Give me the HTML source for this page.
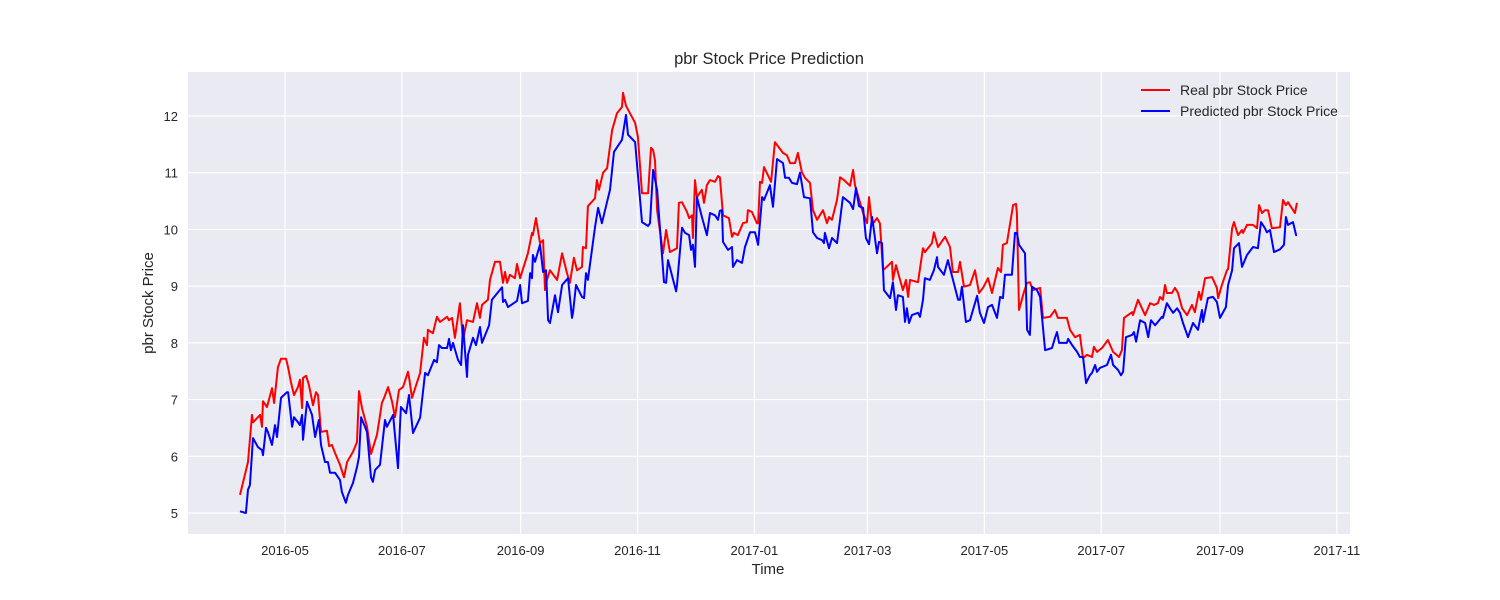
<!DOCTYPE html>
<html><head><meta charset="utf-8"><style>
body{margin:0;background:#fff;}
svg{display:block;font-family:"Liberation Sans",sans-serif;}
</style></head><body>
<svg id="chart" width="1500" height="600">
<rect x="0" y="0" width="1500" height="600" fill="#fff"/>
<rect x="188" y="72" width="1162" height="462" fill="#eaeaf2"/>
<g id="grid"></g><g id="ticks"></g><g id="series"></g>
<text x="769" y="64" text-anchor="middle" font-size="16.5" fill="#262626">pbr Stock Price Prediction</text>
<text x="768" y="574" text-anchor="middle" font-size="15" fill="#262626">Time</text>
<text transform="translate(153,303) rotate(-90)" text-anchor="middle" font-size="15" fill="#262626">pbr Stock Price</text>
<g>
<line x1="1141" y1="90" x2="1170" y2="90" stroke="#ff0000" stroke-width="2"/>
<text x="1180" y="95" font-size="14" fill="#262626">Real pbr Stock Price</text>
<line x1="1141" y1="111" x2="1170" y2="111" stroke="#0000ff" stroke-width="2"/>
<text x="1180" y="116" font-size="14" fill="#262626">Predicted pbr Stock Price</text>
</g>
</svg>
<script>
// days since 2016-05-01
const xTickDays=[0,61,123,184,245,304,365,426,488,549];
const xTickLabels=["2016-05","2016-07","2016-09","2016-11","2017-01","2017-03","2017-05","2017-07","2017-09","2017-11"];
const yTicks=[5,6,7,8,9,10,11,12];
const redDays=[-23.5,-19.3,-17.2,-16.7,-13,-12,-11.5,-9.4,-6.8,-5.7,-3.7,-2.1,0.5,1.6,3.1,4.7,6.8,7.8,8.9,9.4,11,12.5,14.6,16.2,17.2,18.8,21.9,23,24.5,26.1,28.7,30.8,32.4,35.5,37.6,38.6,40.2,42.8,44.9,48,50.6,51.7,53.8,55.9,57.4,59.5,61.6,64.2,64.7,66.3,70.5,72.5,74.1,74.6,77.2,79.3,80.9,84.6,85.6,87.2,88.7,91.3,92.9,95,98.1,100.2,101.8,102.8,105.9,107,109.6,112.2,113.8,114.8,115.9,117.4,120,121.1,122.7,126.8,128.9,129.4,131,133.1,134.7,135.7,136.7,138.3,142,144.6,147.2,148.7,150.8,152.4,155,155.5,157.1,158.1,161.8,162.8,163.9,166,168.1,170.7,173.3,175.9,176.4,178,182.7,184.2,186.3,189.5,191,192.1,193.1,194.2,197.3,198.9,200.9,204.6,205.6,207.2,209.8,210.9,212.4,212.9,214,215,217.6,218.7,220.2,221.8,224.4,226,227,228.6,231.7,233.3,234.3,236.4,239,241.1,241.6,243.7,246.3,246.9,247.9,249,250,253.7,255.7,259.9,262,263.6,266.2,267.7,269.8,271.4,274,275.6,277.7,280.8,282.9,283.9,285.5,288.1,289.7,291.8,294.9,296.5,297.5,301.7,303.8,304.8,306.4,309,310.5,312.1,316.8,317.3,318.9,322.5,324.1,325.2,326.2,330.4,333,334,337.7,338.7,340.8,344.5,347.1,348.6,351.3,352.3,354.4,357.5,360.1,362.2,364.3,366.9,369,372.1,373.7,374.7,376.8,380,381.5,382,383.1,385.7,387.3,388.8,390.4,394.1,395.6,399.3,401.9,403.4,408.1,409.7,412.3,414.9,416.5,418.6,421.2,422.2,423.8,426.4,429.5,432.2,435.3,436.8,437.9,442.1,442.6,445.2,448.9,451.5,453.6,455.6,456.7,458.2,459.3,460.3,462.9,464.5,466.1,468.2,470.8,473.4,474.9,477,478.1,480.2,483.8,486.4,487,489,491.6,492.2,494.3,495.3,497.4,499.5,500,502.1,505.2,507.3,508.4,509.9,511.5,513.1,515.1,519.3,520.9,522.4,523.5,527.1,528.2];
const redVals=[5.32,5.9,6.73,6.6,6.73,6.52,6.97,6.87,7.2,6.94,7.57,7.72,7.72,7.57,7.31,7.08,7.22,7.35,6.85,7.38,7.42,7.26,6.9,7.13,7.08,6.43,6.45,6.18,6.2,6.06,5.85,5.63,5.9,6.08,6.25,7.15,6.85,6.52,6.04,6.38,6.94,7.03,7.22,6.96,6.69,7.17,7.22,7.49,7.4,7.03,7.47,8.09,7.96,8.23,8.17,8.46,8.37,8.46,8.4,8.44,8.09,8.7,8.05,8.4,8.37,8.7,8.44,8.67,8.76,9.11,9.43,9.43,9.06,9.25,9.06,9.2,9.14,9.39,9.14,9.58,9.94,9.9,10.2,9.76,9.81,8.93,9.11,9.28,9.11,9.58,9.23,9.06,9.5,9.28,9.34,9.69,9.67,10.41,10.55,10.87,10.7,11,11.08,11.75,12.05,12.16,12.41,12.18,11.88,11.63,10.64,10.64,11.44,11.4,11.22,10.34,9.58,9.99,9.6,9.67,10.47,10.48,10.31,10.2,10.25,9.85,10.87,10.57,10.7,10.47,10.78,10.87,10.84,10.94,10.92,10.25,10.2,9.87,9.94,9.9,10.11,10.13,10.34,10.31,10.11,10.11,10.84,10.82,11.1,10.84,11.54,11.35,11.31,11.17,11.17,11.35,11.01,10.91,10.82,10.34,10.17,10.34,10.11,10.22,10.17,10.52,10.92,10.87,10.77,11.05,10.78,10.29,10.11,10.57,10.08,10.2,10.11,9.28,9.43,9.11,9.37,8.93,9.11,8.81,9.11,9.07,9.67,9.6,9.76,9.95,9.69,9.87,9.69,9.25,9.25,9.43,8.99,9.02,9.28,8.88,8.97,9.14,8.88,9.32,9.25,9.73,9.76,10.43,10.45,10.29,8.58,8.9,9.06,9.07,8.93,8.97,8.44,8.46,8.58,8.44,8.44,8.23,8.1,8.14,7.73,7.79,7.75,7.93,7.84,7.91,8.05,7.84,7.75,7.87,8.44,8.54,8.49,8.76,8.49,8.7,8.67,8.7,8.81,8.76,9.02,8.88,8.88,8.97,8.88,8.61,8.49,8.67,8.54,8.9,8.76,9.14,9.16,8.97,8.79,9.02,9.28,9.3,10.02,10.13,9.9,9.99,9.94,10.08,10.08,10.02,10.43,10.29,10.34,10.34,10.02,10.04,10.52,10.43,10.48,10.29,10.47];
const blueDays=[-23.5,-20.4,-19.3,-18.3,-16.7,-14.1,-12,-11.5,-9.9,-8.9,-6.8,-5.2,-4.2,-2.1,1,1.6,3.7,4.7,6.8,7.8,8.9,9.4,11.5,14.1,15.7,17.7,18.8,20.9,22.4,23.5,26.1,28.7,29.7,31.8,32.9,35.5,37.6,38.6,39.7,42.8,44.9,45.9,47,49.6,52.2,53.2,56.4,59,60.5,63.2,64.7,66.8,70.5,73.1,74.6,77.8,79.3,80.4,81.9,84.6,85.6,86.6,87.7,90.3,91.9,92.9,95,95.5,98.1,99.7,101.8,102.8,106.5,108,113.3,113.8,114.8,116.4,121.1,122.7,123.7,126.8,127.9,128.9,129.4,130.5,133.1,134.7,136.2,137.3,138.3,140.9,142.5,144.6,147.7,149.8,150.3,151.9,155,156.1,157.1,158.1,161.8,163.4,165.4,169.6,171.7,175.9,178,179,182.7,186.3,189.5,190.5,192.1,194.2,197.8,198.9,199.9,204.1,204.6,207.2,208.8,210.9,211.9,212.9,214,215,217.6,220.2,221.8,224.4,226,227,228.1,228.6,231.2,233.3,233.8,235.9,238.5,240.1,242.7,245.3,246.9,249,250,253.1,254.7,256.8,259.9,261,263,264.6,267.2,268.8,270.9,274,275.6,277.7,280.3,281.3,281.8,283.9,285.5,288.1,289.7,291.2,294.9,296.5,298,299.6,301.7,303.2,304.8,306.4,309,310,311.6,312.6,315.8,317.3,318.9,319.9,322.5,323.6,324.6,325.7,327.2,330.4,331.4,333,334,336.6,338.7,340.3,340.8,343.9,346,351.3,352.3,353.3,355.4,357.5,361.2,362.7,364.8,366.9,369,371.6,373.2,374.7,375.8,379.4,381,382,383.1,386.2,387.3,388.8,389.9,392.5,394.1,396.7,400.3,401.9,402.9,404,408.1,408.7,410.8,413.4,414.9,416.5,418.1,420.1,421.2,422.8,423.8,425.4,429,431.1,432.2,434.8,436.3,437.4,438.9,442.1,443.1,444.2,446.3,448.9,450.5,452,454.1,455.6,457.7,458.2,460.3,461.9,463.5,465.6,467.1,468.7,471.3,473.9,476.5,478.6,479.1,481.7,484.3,486.4,488,491.1,492.2,494.3,495.3,497.9,499.5,502.1,505.2,507.8,509.4,511.5,512.5,514.1,516.2,519.3,521.4,522.4,523.5,526.1,527.7,528.2];
const blueVals=[5.03,5,5.41,5.49,6.32,6.16,6.11,6.02,6.5,6.43,6.2,6.55,6.34,7.03,7.13,7.13,6.52,6.69,6.6,6.55,6.73,6.29,6.96,6.73,6.34,6.64,6.2,5.9,5.9,5.71,5.71,5.58,5.37,5.18,5.32,5.53,5.81,5.99,6.69,6.43,5.63,5.55,5.76,5.85,6.64,6.52,6.73,5.79,6.87,6.76,7.08,6.41,6.68,7.47,7.43,7.7,7.66,7.96,7.91,7.91,8.07,7.87,8,7.7,7.61,8.31,7.4,7.79,8.09,7.96,8.28,8,8.31,8.76,8.98,8.72,8.76,8.63,8.74,9.02,8.7,8.74,9.23,9.14,9.55,9.43,9.73,9.25,9.28,8.4,8.35,8.84,8.54,9.02,9.14,8.44,8.53,9.02,8.81,8.79,9.23,9.11,10.04,10.38,10.11,10.7,11.37,11.58,12.02,11.67,11.54,10.13,10.06,10.11,11.05,10.7,9.07,9.06,9.46,8.91,9.02,10.03,9.94,9.9,9.64,9.73,9.34,10.57,10.22,9.9,10.29,10.25,10.17,10.33,10.34,9.78,9.64,9.69,9.34,9.46,9.41,9.69,9.95,9.95,9.73,10.57,10.52,10.78,10.4,11.24,11.17,10.91,10.91,10.82,10.8,11,10.57,10.55,9.95,9.85,9.81,9.76,9.94,9.67,9.85,9.76,10.17,10.57,10.47,10.36,10.73,10.41,10.38,9.85,9.74,10.22,9.58,9.78,9.76,8.93,8.79,9.07,8.58,8.84,8.81,8.37,8.61,8.35,8.49,8.53,8.46,8.76,9.14,9.11,9.28,9.51,9.34,9.2,9.46,8.76,8.76,8.99,8.37,8.4,8.83,8.53,8.35,8.63,8.67,8.44,8.81,8.79,9.2,9.2,9.94,9.94,9.73,9.58,8.23,8.14,8.99,8.93,8.81,7.87,7.91,8.09,8.19,8,8,8.07,7.96,7.84,7.75,7.75,7.29,7.43,7.47,7.61,7.49,7.56,7.61,7.79,7.61,7.52,7.43,7.49,8.1,8.14,8.19,8.02,8.4,8.35,8.1,8.4,8.31,8.37,8.46,8.44,8.7,8.61,8.53,8.61,8.53,8.35,8.1,8.35,8.23,8.58,8.37,8.79,8.81,8.72,8.44,8.63,9.02,9.28,9.67,9.76,9.34,9.55,9.69,9.67,10.13,10.02,9.95,9.99,9.6,9.65,9.73,10.22,10.08,10.13,9.9,9.9];

const NS="http://www.w3.org/2000/svg";
const X0=188,X1=1350,Y0=72,Y1=534;
function xScale(d){return 285+d*1.916;}
function yScale(v){return 513-(v-5)*56.71;}
const grid=document.getElementById('grid'),ticks=document.getElementById('ticks'),series=document.getElementById('series');
xTickDays.forEach((d,i)=>{
  const x=xScale(d);
  const l=document.createElementNS(NS,'line');
  l.setAttribute('x1',x);l.setAttribute('x2',x);l.setAttribute('y1',Y0);l.setAttribute('y2',Y1);
  l.setAttribute('stroke','#fff');l.setAttribute('stroke-width','1.2');
  
  
  grid.appendChild(l);
  const t=document.createElementNS(NS,'text');
  t.setAttribute('x',x);t.setAttribute('y',555);t.setAttribute('text-anchor','middle');
  t.setAttribute('font-size','13');t.setAttribute('fill','#262626');
  t.textContent=xTickLabels[i];
  
  
  ticks.appendChild(t);
});
yTicks.forEach(v=>{
  const y=yScale(v);
  const l=document.createElementNS(NS,'line');
  l.setAttribute('x1',X0);l.setAttribute('x2',X1);l.setAttribute('y1',y);l.setAttribute('y2',y);
  l.setAttribute('stroke','#fff');l.setAttribute('stroke-width','1.2');
  
  
  grid.appendChild(l);
  const t=document.createElementNS(NS,'text');
  t.setAttribute('x',178);t.setAttribute('y',y+5);t.setAttribute('text-anchor','end');
  t.setAttribute('font-size','13');t.setAttribute('fill','#262626');
  t.textContent=v;
  
  
  ticks.appendChild(t);
});
function drawLine(days,vals,color,name){
  const d=days.map((dd,i)=>(i?'L':'M')+xScale(dd).toFixed(1)+','+yScale(vals[i]).toFixed(1)).join('');
  const p=document.createElementNS(NS,'path');
  p.setAttribute('d',d);p.setAttribute('fill','none');p.setAttribute('stroke',color);
  p.setAttribute('stroke-width','2');p.setAttribute('stroke-linejoin','round');
  
  
  series.appendChild(p);
}
drawLine(redDays,redVals,'#ff0000','real-price-line');
drawLine(blueDays,blueVals,'#0000ff','predicted-price-line');
</script>
</body></html>
